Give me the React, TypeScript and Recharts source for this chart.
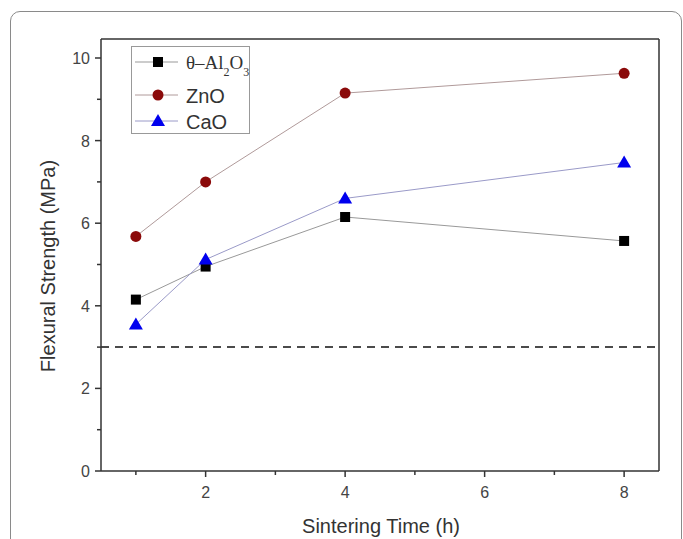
import { Label, Line, LineChart, ReferenceLine, XAxis, YAxis } from "recharts";

const hours = [1, 2, 4, 8];
const al2o3 = [4.15, 4.95, 6.15, 5.57];
const zno = [5.68, 7.0, 9.15, 9.63];
const cao = [3.55, 5.12, 6.6, 7.47];
const xTicks = [1, 2, 3, 4, 5, 6, 7, 8];
const yTicks = [0, 1, 2, 3, 4, 5, 6, 7, 8, 9, 10];
const xDomain = [0.5, 8.5];
const yDomain = [0, 10.46];
const threshold = 3;

const data = hours.map((h, i) => ({ h, al2o3: al2o3[i], zno: zno[i], cao: cao[i] }));

const FONT = "'Liberation Sans', Arial, sans-serif";
const AXIS = "#333";

function Square(props: any) {
  const { cx, cy } = props;
  if (cx == null || cy == null) return null;
  return <rect x={cx - 5} y={cy - 5} width={10} height={10} fill="#000" />;
}

function Circle(props: any) {
  const { cx, cy } = props;
  if (cx == null || cy == null) return null;
  return <circle cx={cx} cy={cy} r={5.5} fill="#8b0a0a" />;
}

function Triangle(props: any) {
  const { cx, cy } = props;
  if (cx == null || cy == null) return null;
  return <path d={`M${cx},${cy - 7} L${cx + 7},${cy + 5} L${cx - 7},${cy + 5} Z`} fill="#0000ee" />;
}

function XTick(props: any) {
  const { x, y, payload } = props;
  const major = payload.value % 2 === 0;
  return (
    <g>
      <line x1={x} x2={x} y1={y} y2={y + (major ? 6 : 4)} stroke={AXIS} strokeWidth={1.5} />
      {major && (
        <text x={x} y={y + 27} textAnchor="middle" fontSize={16} fill="#444" fontFamily={FONT}>
          {payload.value}
        </text>
      )}
    </g>
  );
}

function YTick(props: any) {
  const { x, y, payload } = props;
  const major = payload.value % 2 === 0;
  return (
    <g>
      <line x1={x - (major ? 6 : 4)} x2={x} y1={y} y2={y} stroke={AXIS} strokeWidth={1.5} />
      {major && (
        <text x={x - 11} y={y + 6} textAnchor="end" fontSize={16} fill="#444" fontFamily={FONT}>
          {payload.value}
        </text>
      )}
    </g>
  );
}

function LegendBox() {
  const rows = [
    { key: "al", y: 16, color: "#999", marker: <rect x={22} y={11} width={10} height={10} fill="#000" /> },
    { key: "zn", y: 49, color: "#b09a9a", marker: <circle cx={27} cy={49} r={5.5} fill="#8b0a0a" /> },
    { key: "ca", y: 75, color: "#9a9ac8", marker: <path d="M27,68 L34,80 L20,80 Z" fill="#0000ee" /> },
  ];
  return (
    <svg width={119} height={89} style={{ display: "block" }}>
      <rect x={0.5} y={0.5} width={118} height={87} fill="#fff" stroke="#999" />
      {rows.map((r) => (
        <g key={r.key}>
          <line x1={4} x2={47} y1={r.y} y2={r.y} stroke={r.color} strokeWidth={1} />
          {r.marker}
        </g>
      ))}
      <text x={55} y={23} fontSize={19} fill="#333" fontFamily="'Liberation Serif', 'Times New Roman', serif">
        θ–Al
        <tspan fontSize={12} dy={7}>2</tspan>
        <tspan dy={-7}>O</tspan>
        <tspan fontSize={12} dy={7}>3</tspan>
      </text>
      <text x={55} y={57} fontSize={20} fill="#333" fontFamily={FONT}>
        ZnO
      </text>
      <text x={55} y={83} fontSize={20} fill="#333" fontFamily={FONT}>
        CaO
      </text>
    </svg>
  );
}

export default function App() {
  return (
    <div style={{ position: "absolute", left: 0, top: 0, width: 683, height: 539, background: "#fff", overflow: "hidden" }}>
      <div
        style={{
          position: "absolute",
          left: 10,
          top: 11,
          width: 672,
          height: 560,
          border: "1px solid #8a8a8a",
          borderRadius: 10,
          boxSizing: "border-box",
        }}
      />
      <div style={{ position: "absolute", left: 0, top: 0 }}>
        <LineChart width={683} height={539} data={data} margin={{ top: 39, right: 24, left: 0, bottom: 0 }}>
          <XAxis
            dataKey="h"
            type="number"
            domain={xDomain}
            ticks={xTicks}
            interval={0}
            height={68}
            stroke={AXIS}
            strokeWidth={1.5}
            tickLine={false}
            tickSize={0}
            tickMargin={0}
            tick={<XTick />}
          >
            <Label
              content={() => (
                <text x={381} y={533} textAnchor="middle" fontSize={20} fill="#333" fontFamily={FONT}>
                  Sintering Time (h)
                </text>
              )}
            />
          </XAxis>
          <YAxis
            type="number"
            domain={yDomain}
            ticks={yTicks}
            interval={0}
            width={101}
            stroke={AXIS}
            strokeWidth={1.5}
            tickLine={false}
            tickSize={0}
            tickMargin={0}
            tick={<YTick />}
          >
            <Label
              content={() => (
                <text
                  x={55}
                  y={266}
                  textAnchor="middle"
                  fontSize={20}
                  fill="#333"
                  fontFamily={FONT}
                  transform="rotate(-90 55 266)"
                >
                  Flexural Strength (MPa)
                </text>
              )}
            />
          </YAxis>
          <ReferenceLine y={yDomain[1]} stroke={AXIS} strokeWidth={1.5} />
          <ReferenceLine x={xDomain[1]} stroke={AXIS} strokeWidth={1.5} />
          <ReferenceLine y={threshold} stroke="#111" strokeWidth={1.5} strokeDasharray="8 6" />
          <Line dataKey="al2o3" stroke="#999" strokeWidth={1} dot={<Square />} isAnimationActive={false} />
          <Line dataKey="zno" stroke="#b09a9a" strokeWidth={1} dot={<Circle />} isAnimationActive={false} />
          <Line dataKey="cao" stroke="#9a9ac8" strokeWidth={1} dot={<Triangle />} isAnimationActive={false} />
        </LineChart>
      </div>
      <div style={{ position: "absolute", left: 131, top: 46 }}>
        <LegendBox />
      </div>
    </div>
  );
}
